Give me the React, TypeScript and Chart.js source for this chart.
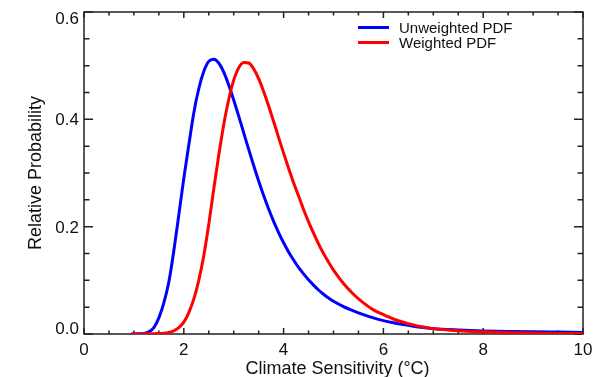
import React, { useEffect, useRef } from "react";
import { Chart, registerables } from "chart.js";

Chart.register(...registerables);

// Unweighted PDF (blue)
const UNWEIGHTED_X = [0.95, 1.1, 1.2, 1.3, 1.4, 1.5, 1.6, 1.7, 1.8, 1.9, 2.0, 2.1, 2.2, 2.3, 2.4, 2.5, 2.6, 2.7, 2.8, 2.9, 3.0, 3.1, 3.2, 3.3, 3.4, 3.5, 3.6, 3.7, 3.8, 3.9, 4.0, 4.1, 4.2, 4.3, 4.4, 4.5, 4.6, 4.7, 4.8, 4.9, 5.0, 5.1, 5.2, 5.4, 5.6, 5.8, 6.0, 6.2, 6.4, 6.6, 6.8, 7.0, 7.5, 8.0, 8.5, 9.0, 9.5, 10.0];
const UNWEIGHTED_Y = [0, 0.0003, 0.001, 0.004, 0.012, 0.03, 0.058, 0.097, 0.155, 0.222, 0.29, 0.352, 0.412, 0.457, 0.489, 0.508, 0.512, 0.505, 0.488, 0.464, 0.436, 0.406, 0.375, 0.344, 0.314, 0.285, 0.258, 0.233, 0.21, 0.189, 0.17, 0.153, 0.138, 0.124, 0.112, 0.101, 0.091, 0.082, 0.074, 0.067, 0.061, 0.056, 0.051, 0.043, 0.036, 0.03, 0.025, 0.021, 0.0175, 0.0145, 0.012, 0.01, 0.0075, 0.0058, 0.0047, 0.004, 0.0035, 0.003];

// Weighted PDF (red)
const WEIGHTED_X = [0.95, 1.2, 1.4, 1.5, 1.6, 1.7, 1.8, 1.9, 2.0, 2.1, 2.2, 2.3, 2.4, 2.5, 2.6, 2.7, 2.8, 2.9, 3.0, 3.1, 3.2, 3.3, 3.4, 3.5, 3.6, 3.7, 3.8, 3.9, 4.0, 4.1, 4.2, 4.3, 4.4, 4.5, 4.6, 4.7, 4.8, 4.9, 5.0, 5.2, 5.4, 5.6, 5.8, 6.0, 6.2, 6.4, 6.6, 6.8, 7.0, 7.5, 8.0, 8.5, 9.0, 9.5, 10.0];
const WEIGHTED_Y = [0, 0.0002, 0.0005, 0.001, 0.0015, 0.003, 0.006, 0.012, 0.022, 0.04, 0.065, 0.1, 0.146, 0.204, 0.27, 0.333, 0.39, 0.437, 0.473, 0.496, 0.506, 0.505, 0.494, 0.476, 0.452, 0.425, 0.396, 0.366, 0.337, 0.309, 0.282, 0.257, 0.232, 0.209, 0.188, 0.168, 0.15, 0.134, 0.119, 0.094, 0.074, 0.058, 0.045, 0.036, 0.028, 0.022, 0.017, 0.013, 0.01, 0.006, 0.004, 0.0025, 0.0017, 0.001, 0.0006];

const SERIES_LABELS = ["Unweighted PDF", "Weighted PDF"];
const SERIES_COLORS = ["#0000ff", "#ff0000"];

const X_MAJOR_TICKS = [0, 2, 4, 6, 8, 10];
const X_TICK_LABELS = ["0", "2", "4", "6", "8", "10"];
const Y_MAJOR_TICKS = [0, 0.2, 0.4, 0.6];
const Y_TICK_LABELS = ["0.0", "0.2", "0.4", "0.6"];
const X_MINOR_STEP = 0.5;
const Y_MINOR_STEP = 0.05;

const X_TITLE = "Climate Sensitivity (\u00B0C)";
const Y_TITLE = "Relative Probability";

const FONT = "'Liberation Sans', Arial, Helvetica, sans-serif";
const AXIS_COLOR = "#222222";
const TEXT_COLOR = "#111111";

const framePlugin = {
  id: "idlFrame",
  beforeDatasetsDraw(chart: any) {
    const { ctx, chartArea, scales } = chart;
    const { left, right, top, bottom } = chartArea;
    const xs = scales.x;
    const ys = scales.y;
    ctx.save();
    ctx.strokeStyle = AXIS_COLOR;
    ctx.lineWidth = 1.5;
    ctx.strokeRect(left, top, right - left, bottom - top);
    ctx.beginPath();
    for (let v = xs.min; v <= xs.max + 1e-9; v += X_MINOR_STEP) {
      const px = xs.getPixelForValue(v);
      const isMajor = X_MAJOR_TICKS.some((m) => Math.abs(m - v) < 1e-6);
      const len = isMajor ? 6 : 3.5;
      ctx.moveTo(px, bottom);
      ctx.lineTo(px, bottom - len);
      ctx.moveTo(px, top);
      ctx.lineTo(px, top + len);
    }
    for (let v = ys.min; v <= ys.max + 1e-9; v += Y_MINOR_STEP) {
      const py = ys.getPixelForValue(v);
      const isMajor = Y_MAJOR_TICKS.some((m) => Math.abs(m - v) < 1e-6);
      const len = isMajor ? 9 : 5.5;
      ctx.moveTo(left, py);
      ctx.lineTo(left + len, py);
      ctx.moveTo(right, py);
      ctx.lineTo(right - len, py);
    }
    ctx.stroke();
    ctx.restore();
  },
  afterDraw(chart: any) {
    const { ctx, chartArea, scales } = chart;
    const { left, right, top, bottom } = chartArea;
    const xs = scales.x;
    const ys = scales.y;
    ctx.save();
    ctx.fillStyle = TEXT_COLOR;

    ctx.font = `17px ${FONT}`;
    ctx.textAlign = "center";
    ctx.textBaseline = "alphabetic";
    X_MAJOR_TICKS.forEach((v, i) => {
      ctx.fillText(X_TICK_LABELS[i], xs.getPixelForValue(v), bottom + 21);
    });

    ctx.textAlign = "right";
    Y_MAJOR_TICKS.forEach((v, i) => {
      let base = ys.getPixelForValue(v) + 6;
      if (base > bottom) base = bottom;
      if (base - 12 < top) base = top + 12;
      ctx.fillText(Y_TICK_LABELS[i], left - 5, base);
    });

    ctx.font = `18px ${FONT}`;
    ctx.textAlign = "center";
    ctx.fillText(X_TITLE, (left + right) / 2 + 4, bottom + 40);

    ctx.save();
    ctx.translate(41, (top + bottom) / 2);
    ctx.rotate(-Math.PI / 2);
    ctx.textAlign = "center";
    ctx.fillText(Y_TITLE, 0, 0);
    ctx.restore();

    ctx.font = `15px ${FONT}`;
    ctx.textAlign = "left";
    chart.data.datasets.forEach((ds: any, i: number) => {
      const y = 27.5 + i * 15;
      ctx.strokeStyle = ds.borderColor;
      ctx.lineWidth = 3;
      ctx.beginPath();
      ctx.moveTo(358, y);
      ctx.lineTo(389, y);
      ctx.stroke();
      ctx.fillStyle = TEXT_COLOR;
      ctx.fillText(ds.label, 399, y + 5);
    });
    ctx.restore();
  },
};

export default function App() {
  const canvasRef = useRef<HTMLCanvasElement | null>(null);

  useEffect(() => {
    if (!canvasRef.current) return;
    const makeData = (xs: number[], ys: number[]) => xs.map((x, i) => ({ x, y: ys[i] }));
    const chart = new Chart(canvasRef.current, {
      type: "line",
      data: {
        datasets: [
          {
            label: SERIES_LABELS[0],
            data: makeData(UNWEIGHTED_X, UNWEIGHTED_Y),
            borderColor: SERIES_COLORS[0],
            borderWidth: 3,
            pointRadius: 0,
            fill: false,
            cubicInterpolationMode: "monotone",
            order: 1,
          },
          {
            label: SERIES_LABELS[1],
            data: makeData(WEIGHTED_X, WEIGHTED_Y),
            borderColor: SERIES_COLORS[1],
            borderWidth: 3,
            pointRadius: 0,
            fill: false,
            cubicInterpolationMode: "monotone",
            order: 0,
          },
        ],
      },
      options: {
        responsive: false,
        animation: false,
        layout: { padding: { left: 0, right: 11, top: 12, bottom: 0 } },
        plugins: { legend: { display: false }, tooltip: { enabled: false } },
        scales: {
          x: {
            type: "linear",
            min: 0,
            max: 10,
            grid: { display: false },
            border: { display: false },
            ticks: { display: false },
            afterFit: (s: any) => {
              s.height = 43;
            },
          },
          y: {
            type: "linear",
            min: 0,
            max: 0.6,
            grid: { display: false },
            border: { display: false },
            ticks: { display: false },
            afterFit: (s: any) => {
              s.width = 84;
            },
          },
        },
      },
      plugins: [framePlugin],
    });
    return () => chart.destroy();
  }, []);

  return (
    <div style={{ position: "absolute", left: 0, top: 0, width: 594, height: 377, background: "#fff" }}>
      <canvas ref={canvasRef} width={594} height={377} />
    </div>
  );
}
